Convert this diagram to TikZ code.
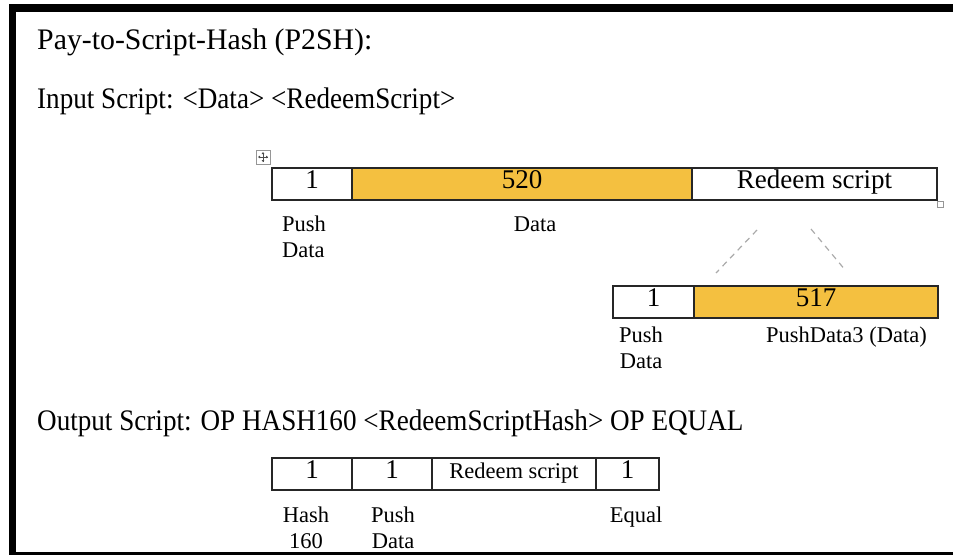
\documentclass[tikz,border=0pt]{standalone}
\usepackage{fontspec}
\setmainfont{Liberation Serif}
\usetikzlibrary{calc}
\definecolor{gold}{RGB}{244,192,64}
\definecolor{dashgray}{RGB}{170,170,170}
\definecolor{handlegray}{RGB}{150,150,150}
\newcommand{\narrowline}[1]{\scalebox{0.91}[1]{#1}}
\tikzset{
  heading/.style={anchor=base west, inner sep=0pt, font=\fontsize{29.8}{34}\selectfont},
  cellbox/.style={draw=black!85, line width=1.3pt, inner sep=0pt, minimum height=32pt,
    text height=0.92em, text depth=0pt, font=\fontsize{27}{30}\selectfont},
  smallcell/.style={cellbox, font=\fontsize{22.5}{26}\selectfont, text height=0.95em},
  caption/.style={anchor=base, inner sep=0pt, align=center, font=\fontsize{22.5}{26}\selectfont},
  zoomline/.style={draw=dashgray, line width=1.2pt, dash pattern=on 6pt off 5pt},
  handle/.style={draw=handlegray, line width=0.8pt, fill=white}
}
\begin{document}
\begin{tikzpicture}[x=1pt,y=-1pt]
\useasboundingbox (0,0) rectangle (953,555);
% page frame
\fill[black] (9,4) rectangle (953,12);
\fill[black] (9,4) rectangle (16,555);
\fill[black] (9,552) rectangle (953,555);

% headings
\node[heading] (title) at (37,49) {Pay-to-Script-Hash (P2SH):};
\node[heading] (input) at (37,108) {\narrowline{Input Script: <Data> <RedeemScript>}};
\node[heading] (output) at (37,430) {\narrowline{Output Script: OP HASH160 <RedeemScriptHash> OP EQUAL}};

% table move handle
\draw[handle] (256,150) rectangle (270,164);
\draw[black!70, line width=0.7pt] (263,152.5) -- (263,161.5) (258.5,157) -- (267.5,157);
\fill[black!70] (263,152) -- (261.6,154) -- (264.4,154) -- cycle
  (263,162) -- (261.6,160) -- (264.4,160) -- cycle
  (258,157) -- (260,155.6) -- (260,158.4) -- cycle
  (268,157) -- (266,155.6) -- (266,158.4) -- cycle;

% input script layout
\node[cellbox, minimum width=80pt] (t1a) at (312,184) {1};
\node[cellbox, minimum width=340pt, fill=gold] (t1b) at (522,184) {520};
\node[cellbox, minimum width=245pt] (t1c) at (814.5,184) {Redeem script};
\draw[handle] (937.5,201.5) rectangle (943.5,207.5);

\node[anchor=base west, inner sep=0pt, align=left, font=\fontsize{22.5}{26}\selectfont] (l1a) at (282,257) {Push\\Data};
\node[caption] (l1b) at (535,231) {Data};

% redeem script expanded
\coordinate (z1) at (757,230);
\coordinate (z2) at (716,273);
\coordinate (z3) at (811,229);
\coordinate (z4) at (846,271);
\draw[zoomline] (z1) -- (z2);
\draw[zoomline] (z3) -- (z4);

\node[cellbox, minimum width=81pt] (t2a) at (653.5,302) {1};
\node[cellbox, minimum width=244pt, fill=gold] (t2b) at (816,302) {517};
\node[caption] (l2a) at (641,368) {Push\\Data};
\node[anchor=base west, inner sep=0pt, font=\fontsize{22.5}{26}\selectfont] (l2b) at (766,342) {PushData3 (Data)};

% output script layout
\node[cellbox, minimum width=80pt] (t3a) at (312,474) {1};
\node[cellbox, minimum width=80pt] (t3b) at (392,474) {1};
\node[smallcell, minimum width=164pt] (t3c) at (514,474) {Redeem script};
\node[cellbox, minimum width=63pt] (t3d) at (627.5,474) {1};

\node[caption] (l3a) at (306,548) {Hash\\160};
\node[caption] (l3b) at (393,548) {Push\\Data};
\node[caption] (l3d) at (636,522) {Equal};
\end{tikzpicture}
\end{document}
